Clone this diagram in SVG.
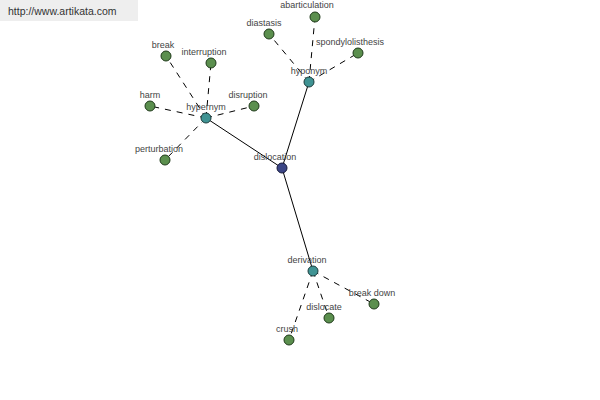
<svg xmlns="http://www.w3.org/2000/svg" width="600" height="400" viewBox="0 0 600 400">
<style>
.lbl{font-family:"Liberation Sans",Arial,sans-serif;font-size:9px;fill:#444;text-anchor:middle}
.leaf{fill:#5b8f4e;stroke:#1f3a1a;stroke-width:1}
.hub{fill:#3f9393;stroke:#1c3d3d;stroke-width:1}
.root{fill:#3b4585;stroke:#161a3a;stroke-width:1}
.solid{stroke:#000;stroke-width:1;fill:none}
.dash{stroke:#000;stroke-width:1;stroke-dasharray:6,6;fill:none}
</style>
<rect x="0" y="0" width="138" height="21" fill="#eeeeee"/>
<text x="8" y="15" font-family="Liberation Sans,Arial,sans-serif" font-size="10.5" fill="#333">http://www.artikata.com</text>
<g id="connectors">
<line class="solid" x1="282" y1="168" x2="206" y2="118"/>
<line class="solid" x1="282" y1="168" x2="309" y2="82"/>
<line class="solid" x1="282" y1="168" x2="313" y2="271"/>
<line class="dash" x1="206" y1="118" x2="166" y2="56"/>
<line class="dash" x1="206" y1="118" x2="211" y2="63"/>
<line class="dash" x1="206" y1="118" x2="150" y2="106"/>
<line class="dash" x1="206" y1="118" x2="254" y2="106"/>
<line class="dash" x1="206" y1="118" x2="165" y2="160"/>
<line class="dash" x1="309" y1="82" x2="269" y2="34"/>
<line class="dash" x1="309" y1="82" x2="315" y2="17"/>
<line class="dash" x1="309" y1="82" x2="358" y2="53"/>
<line class="dash" x1="313" y1="271" x2="289" y2="340"/>
<line class="dash" x1="313" y1="271" x2="329" y2="318"/>
<line class="dash" x1="313" y1="271" x2="374" y2="304"/>
</g>
<g id="dislocation"><circle class="root" cx="282" cy="168" r="5"/><text class="lbl" x="275" y="160">dislocation</text></g>
<g id="hypernym"><circle class="hub" cx="206" cy="118" r="5"/><text class="lbl" x="206" y="110">hypernym</text></g>
<g id="hyponym"><circle class="hub" cx="309" cy="82" r="5"/><text class="lbl" x="309" y="74">hyponym</text></g>
<g id="derivation"><circle class="hub" cx="313" cy="271" r="5"/><text class="lbl" x="307" y="263">derivation</text></g>
<g id="break"><circle class="leaf" cx="166" cy="56" r="5"/><text class="lbl" x="163" y="48">break</text></g>
<g id="interruption"><circle class="leaf" cx="211" cy="63" r="5"/><text class="lbl" x="204" y="55">interruption</text></g>
<g id="harm"><circle class="leaf" cx="150" cy="106" r="5"/><text class="lbl" x="150" y="98">harm</text></g>
<g id="disruption"><circle class="leaf" cx="254" cy="106" r="5"/><text class="lbl" x="248" y="98">disruption</text></g>
<g id="perturbation"><circle class="leaf" cx="165" cy="160" r="5"/><text class="lbl" x="159" y="152">perturbation</text></g>
<g id="diastasis"><circle class="leaf" cx="269" cy="34" r="5"/><text class="lbl" x="264" y="26">diastasis</text></g>
<g id="abarticulation"><circle class="leaf" cx="315" cy="17" r="5"/><text class="lbl" x="307" y="8">abarticulation</text></g>
<g id="spondylolisthesis"><circle class="leaf" cx="358" cy="53" r="5"/><text class="lbl" x="350" y="45">spondylolisthesis</text></g>
<g id="crush"><circle class="leaf" cx="289" cy="340" r="5"/><text class="lbl" x="287" y="332">crush</text></g>
<g id="dislocate"><circle class="leaf" cx="329" cy="318" r="5"/><text class="lbl" x="324" y="310">dislocate</text></g>
<g id="break down"><circle class="leaf" cx="374" cy="304" r="5"/><text class="lbl" x="372" y="296">break down</text></g>
</svg>
